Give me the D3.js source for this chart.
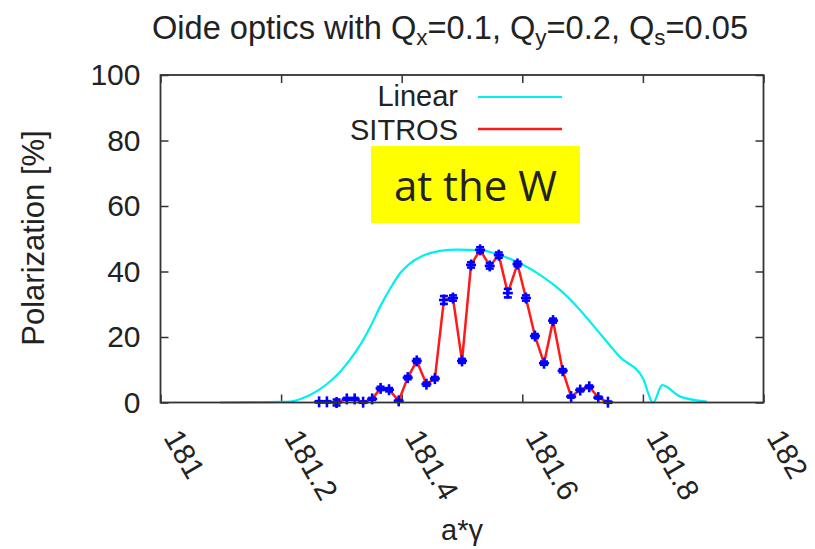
<!DOCTYPE html>
<html>
<head>
<meta charset="utf-8">
<script src="https://cdn.jsdelivr.net/npm/d3@7"></script>
<style>
  body { margin: 0; background: #fff; }
  text { font-family: "Liberation Sans", Arial, sans-serif; fill: #222; }
</style>
</head>
<body>
<svg id="chart"></svg>
<script>
// Linear (analytic) curve
const linearX = [181.099, 181.198, 181.215, 181.231, 181.248, 181.264, 181.281, 181.298, 181.314, 181.331,
  181.348, 181.364, 181.381, 181.397, 181.414, 181.435, 181.464, 181.492, 181.530, 181.563,
  181.596, 181.630, 181.663, 181.696, 181.729, 181.762, 181.800, 181.817, 181.832, 181.862, 181.906];
const linearY = [0, 0.2, 0.3, 1.0, 2.3, 4.0, 6.4, 9.4, 13.0, 17.5,
  23.1, 29.2, 34.8, 39.4, 42.5, 44.8, 46.3, 46.7, 46.5, 45.0,
  42.5, 38.9, 34.3, 28.2, 21.0, 13.9, 7.4, 0, 5.3, 1.8, 0.3];

// SITROS tracking results
const sitrosX = [181.263, 181.276, 181.292, 181.309, 181.322, 181.336, 181.351, 181.365, 181.379, 181.395,
  181.410, 181.425, 181.441, 181.455, 181.470, 181.485, 181.500, 181.515, 181.530, 181.546,
  181.561, 181.576, 181.592, 181.606, 181.621, 181.636, 181.651, 181.667, 181.681, 181.696,
  181.711, 181.726, 181.742];
const sitrosY = [0.2, 0.2, 0.0, 1.1, 1.1, 0.1, 1.1, 4.3, 3.9, 0.5,
  7.6, 12.7, 5.6, 7.3, 31.3, 31.9, 12.7, 42.0, 46.6, 41.7,
  45.0, 33.4, 42.3, 31.9, 20.3, 12.0, 25.0, 9.7, 1.8, 3.8,
  4.8, 1.5, 0.1];
const sitrosErr = [0.2, 0.2, 0.9, 0.3, 0.3, 0.2, 0.3, 0.5, 0.5, 0.3,
  0.5, 0.6, 0.5, 0.5, 1.2, 0.8, 0.6, 0.8, 0.8, 0.8,
  0.8, 1.3, 0.7, 0.8, 0.6, 0.5, 0.6, 0.5, 0.3, 0.4,
  0.4, 0.3, 0.2];

const xTicks = [181, 181.2, 181.4, 181.6, 181.8, 182];
const yTicks = [0, 20, 40, 60, 80, 100];

const width = 815, height = 549;
const margin = { top: 75, left: 160.5, bottom: 146.5, right: 51.5 };
const iwidth = width - margin.left - margin.right;
const iheight = height - margin.top - margin.bottom;

const svg = d3.select("#chart").attr("width", width).attr("height", height);
svg.append("rect").attr("width", width).attr("height", height).attr("fill", "#fff");

const g = svg.append("g").attr("transform", `translate(${margin.left},${margin.top})`);

const x = d3.scaleLinear().domain([181, 182]).range([0, iwidth]);
const y = d3.scaleLinear().domain([0, 100]).range([iheight, 0]);

// ticks (inward, mirrored)
const tickStyle = sel => {
  sel.select(".domain").remove();
  sel.selectAll(".tick line").attr("stroke", "#333").attr("stroke-width", 1.5);
};

const xAxis = g.append("g")
  .attr("transform", `translate(0,${iheight})`)
  .call(d3.axisBottom(x).tickValues(xTicks).tickSizeInner(-8).tickSizeOuter(0)
    .tickFormat(d => d % 1 === 0 ? d3.format("d")(d) : d3.format(".1f")(d)))
  .call(tickStyle);
xAxis.selectAll("text")
  .attr("font-size", 30)
  .attr("y", 0).attr("x", 0).attr("dy", 0)
  .attr("text-anchor", "start")
  .attr("transform", "translate(2,35) rotate(60)")
  .attr("fill", "#222");

g.append("g")
  .call(d3.axisTop(x).tickValues(xTicks).tickSizeInner(-8).tickSizeOuter(0).tickFormat(""))
  .call(tickStyle);

const yAxis = g.append("g")
  .call(d3.axisLeft(y).tickValues(yTicks).tickSizeInner(-8).tickSizeOuter(0))
  .call(tickStyle);
yAxis.selectAll("text")
  .attr("font-size", 30)
  .attr("x", -20)
  .attr("fill", "#222");

g.append("g")
  .attr("transform", `translate(${iwidth},0)`)
  .call(d3.axisRight(y).tickValues(yTicks).tickSizeInner(-8).tickSizeOuter(0).tickFormat(""))
  .call(tickStyle);

// Linear curve
const linearData = linearX.map((d, i) => ({ x: d, y: linearY[i] }));
g.append("path")
  .datum(linearData)
  .attr("fill", "none")
  .attr("stroke", "#00f0f0")
  .attr("stroke-width", 2.2)
  .attr("d", d3.line().x(d => x(d.x)).y(d => y(d.y)).curve(d3.curveMonotoneX));

// SITROS line
const sitrosData = sitrosX.map((d, i) => ({ x: d, y: sitrosY[i], e: sitrosErr[i] }));
g.append("path")
  .datum(sitrosData)
  .attr("fill", "none")
  .attr("stroke", "#ff1a1a")
  .attr("stroke-width", 2.5)
  .attr("d", d3.line().x(d => x(d.x)).y(d => y(d.y)));

// error bars and + points
const pts = g.append("g").attr("stroke", "#0000ff").attr("stroke-width", 2.6).attr("fill", "none");
const pt = pts.selectAll("g").data(sitrosData).enter().append("g")
  .attr("transform", d => `translate(${x(d.x)},0)`);
pt.append("line")
  .attr("x1", 0).attr("x2", 0)
  .attr("y1", d => y(d.y - d.e)).attr("y2", d => y(d.y + d.e));
pt.append("line")
  .attr("x1", -4).attr("x2", 4)
  .attr("y1", d => y(d.y - d.e)).attr("y2", d => y(d.y - d.e));
pt.append("line")
  .attr("x1", -4).attr("x2", 4)
  .attr("y1", d => y(d.y + d.e)).attr("y2", d => y(d.y + d.e));
pt.append("line")
  .attr("x1", -5).attr("x2", 5)
  .attr("y1", d => y(d.y)).attr("y2", d => y(d.y));
pt.append("line")
  .attr("x1", 0).attr("x2", 0)
  .attr("y1", d => y(d.y) - 5.5).attr("y2", d => y(d.y) + 5.5);

// frame
g.append("rect")
  .attr("width", iwidth).attr("height", iheight)
  .attr("fill", "none").attr("stroke", "#333").attr("stroke-width", 1.8);

// legend
svg.append("text").attr("x", 458).attr("y", 106).attr("text-anchor", "end")
  .attr("font-size", 29).text("Linear");
svg.append("line").attr("x1", 478).attr("x2", 562).attr("y1", 97).attr("y2", 97)
  .attr("stroke", "#00f0f0").attr("stroke-width", 2.2);
svg.append("text").attr("x", 458).attr("y", 140).attr("text-anchor", "end")
  .attr("font-size", 29).text("SITROS");
svg.append("line").attr("x1", 478).attr("x2", 562).attr("y1", 129).attr("y2", 129)
  .attr("stroke", "#ff1a1a").attr("stroke-width", 2.5);

// yellow annotation
svg.append("rect").attr("x", 371).attr("y", 146).attr("width", 209).attr("height", 77)
  .attr("fill", "#ffff00");
svg.append("text").attr("x", 475.5).attr("y", 201).attr("text-anchor", "middle")
  .style("font-family", "'Open Sans', sans-serif").attr("font-size", 42).attr("fill", "#000")
  .text("at the W");

// title with subscripts
const title = svg.append("text").attr("x", 450).attr("y", 39).attr("text-anchor", "middle")
  .attr("font-size", 32.6);
title.append("tspan").text("Oide optics with Q");
title.append("tspan").attr("font-size", 22.5).attr("dy", 6).text("x");
title.append("tspan").attr("dy", -6).text("=0.1, Q");
title.append("tspan").attr("font-size", 22.5).attr("dy", 6).text("y");
title.append("tspan").attr("dy", -6).text("=0.2, Q");
title.append("tspan").attr("font-size", 22.5).attr("dy", 6).text("s");
title.append("tspan").attr("dy", -6).text("=0.05");

// axis titles
svg.append("text")
  .attr("text-anchor", "middle")
  .attr("transform", "translate(44,238) rotate(-90)")
  .attr("font-size", 31)
  .text("Polarization [%]");

svg.append("text")
  .attr("text-anchor", "middle")
  .attr("x", 462).attr("y", 540)
  .attr("font-size", 29)
  .text("a*\u03b3");
</script>
</body>
</html>
